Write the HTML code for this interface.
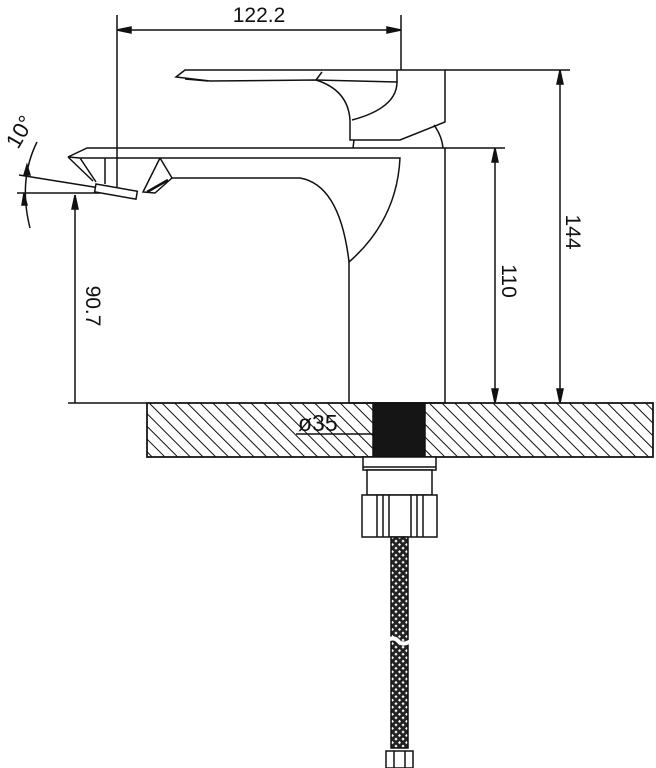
<!DOCTYPE html>
<html><head><meta charset="utf-8"><style>html,body{margin:0;padding:0;background:#fff}svg{display:block}</style></head>
<body>
<svg width="656" height="768" viewBox="0 0 656 768" xmlns="http://www.w3.org/2000/svg" font-family="Liberation Sans, sans-serif">
<defs>
<pattern id="h" patternUnits="userSpaceOnUse" width="9" height="9" patternTransform="rotate(-45)">
<line x1="0" y1="0" x2="0" y2="9" stroke="#111" stroke-width="2"/>
</pattern>
<pattern id="m" patternUnits="userSpaceOnUse" width="5" height="5" patternTransform="rotate(45)">
<rect width="5" height="5" fill="#222"/><rect x="1.5" y="1.5" width="2.2" height="2.2" fill="#fff"/>
</pattern>
</defs>
<g stroke="#111" fill="none" stroke-width="1.5">
<line x1="117" y1="15" x2="117" y2="195"/>
<line x1="401" y1="15" x2="401" y2="70"/>
<line x1="117" y1="30" x2="401" y2="30"/>
<path d="M117 30 l14 -3 v6z M401 30 l-14 -3 v6z" fill="#111"/>
<line x1="445" y1="70" x2="570" y2="70"/>
<line x1="560" y1="70" x2="560" y2="403"/>
<path d="M560 70 l-3 14 h6z M560 403 l-3 -14 h6z" fill="#111"/>
<line x1="445" y1="148" x2="505" y2="148"/>
<line x1="495" y1="148" x2="495" y2="403"/>
<path d="M495 148 l-3 14 h6z M495 403 l-3 -14 h6z" fill="#111"/>
<line x1="75" y1="195" x2="75" y2="403"/>
<path d="M75 195 l-3 14 h6z" fill="#111"/>
<line x1="68" y1="403" x2="147" y2="403"/>
<line x1="17" y1="193" x2="100" y2="193"/>
<line x1="19" y1="175" x2="100" y2="188"/>
<path d="M37 142 Q18 180 30 228"/>
<path d="M27 165 l-3 10 h6z M24 193 l-2 12 h5z" fill="#111"/>
<path d="M176 77 L185 70 L445 70 L445 122 L400 140 L350 140 L350 120 Q348 90 316 80 L210 81 Z"/>
<path d="M185 79 L208 81"/>
<path d="M316 80 L322 72"/>
<path d="M316 80 L397 82 Q397 108 352 120"/>
<path d="M397 70 L397 82"/>
<path d="M434 125 Q442 136 443 148"/>
<path d="M354 140 L353 148"/>
<path d="M68 157 L87 148 L445 148 L445 403 L349 403 L349 262"/>
<path d="M68 157 L80 158 L400 158 Q397 220 349 262 Q340 185 300 178 L172 178 L160 158"/>
<path d="M68 157 L93 181 M80 158 L96 182"/>
<path d="M160 158 L143 192 L155 193 L172 178"/>
<path d="M147 192 L168 180" stroke-width="2.5"/>
<rect x="96" y="184" width="42" height="8" transform="rotate(10 96 184)" fill="#fff"/>
<line x1="105" y1="158" x2="105" y2="184"/>
<rect x="147" y="403" width="506" height="54" fill="url(#h)"/>
<rect x="373" y="403" width="52" height="54" fill="#151515"/>
<rect x="147" y="403" width="506" height="54"/>
<line x1="296" y1="434" x2="373" y2="434"/>
<rect x="363" y="457" width="73" height="13" fill="#fff"/>
<line x1="363" y1="467" x2="436" y2="467"/>
<rect x="367" y="470" width="65" height="25" fill="#fff"/>
<rect x="362" y="495" width="75" height="42" fill="#fff"/>
<path d="M377 495v42 M383 495v42 M389 495v42 M411 495v42 M417 495v42 M423 495v42"/>
<rect x="391" y="537" width="17" height="211" fill="url(#m)"/>
<path d="M387 640 Q395 636 399 642 Q404 646 412 640" stroke="#fff" stroke-width="4"/>
<rect x="386" y="751" width="27" height="17" fill="#fff"/>
<path d="M394 751v17 M405 751v17"/>
</g>
<g fill="#111" font-size="21">
<text x="259" y="22" text-anchor="middle">122.2</text>
<text x="298" y="431" font-size="23">ø35</text>
<text transform="translate(566,232) rotate(90)" text-anchor="middle">144</text>
<text transform="translate(502,281) rotate(90)" text-anchor="middle">110</text>
<text transform="translate(86,306) rotate(90)" text-anchor="middle">90.7</text>
<text transform="translate(18,150) rotate(-60)" font-size="22">10°</text>
</g>
</svg>
</body></html>
